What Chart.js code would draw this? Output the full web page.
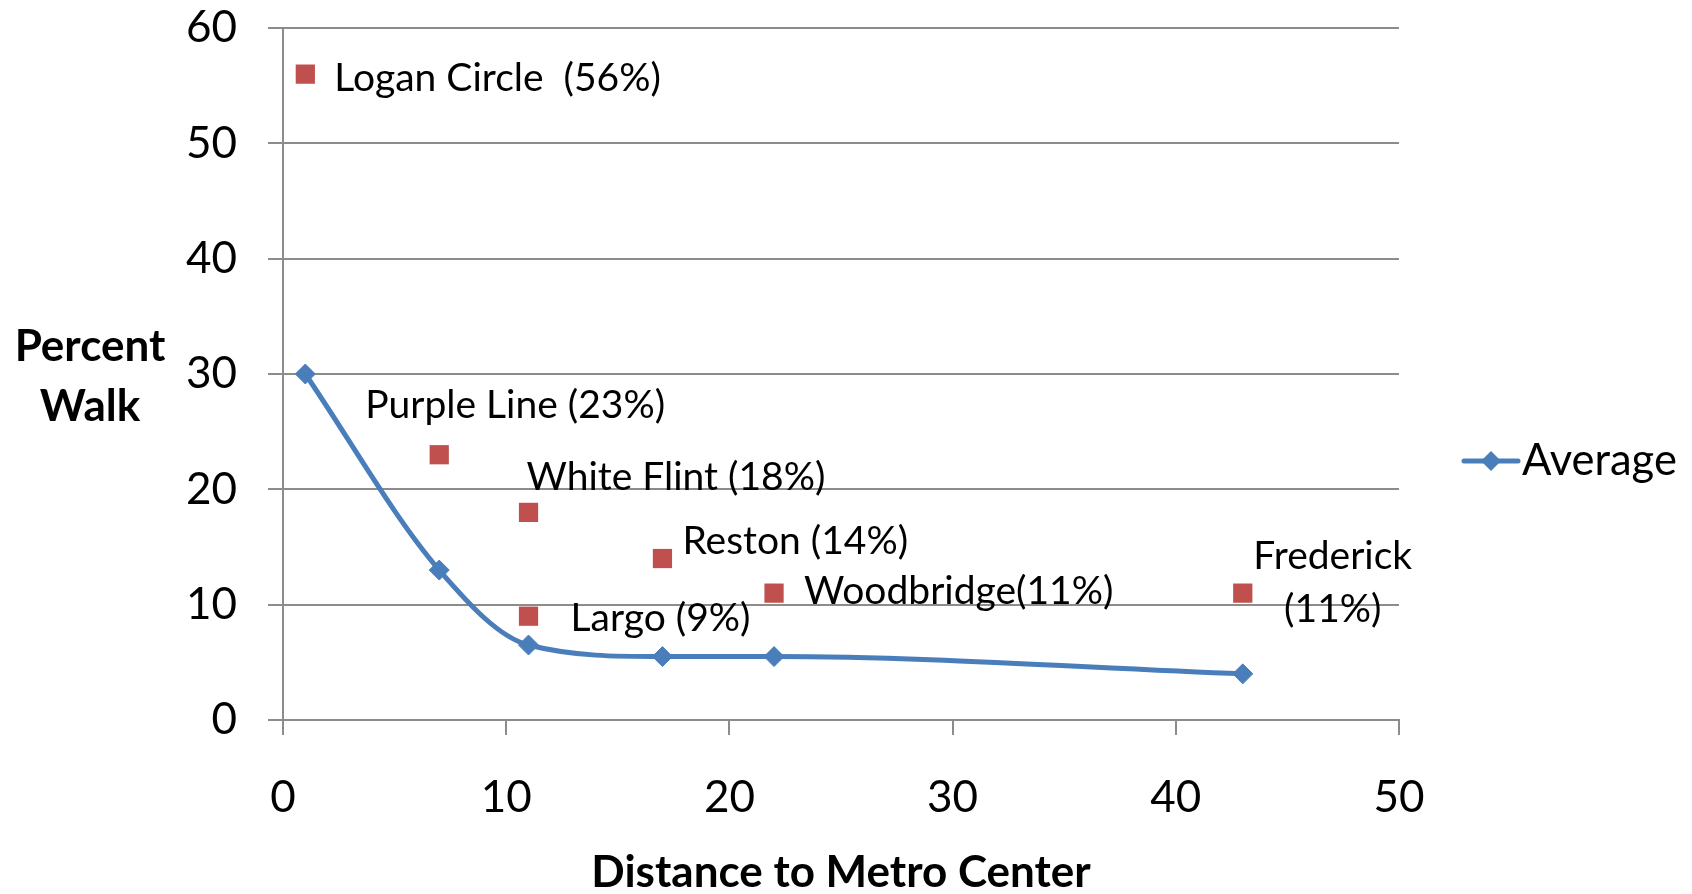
<!DOCTYPE html>
<html>
<head>
<meta charset="utf-8">
<script src="https://cdn.jsdelivr.net/npm/chart.js@4.4.0/dist/chart.umd.min.js"></script>
<style>
  html, body { margin: 0; padding: 0; background: #ffffff; }
  #wrap { width: 1692px; height: 894px; position: relative; }
</style>
</head>
<body>
<div id="wrap"><canvas id="c" width="1692" height="894"></canvas></div>
<script>
// ---- data ----
const avgX = [1, 7, 11, 17, 22, 43];
const avgY = [30, 13, 6.5, 5.5, 5.5, 4];
const siteX = [1, 7, 11, 11, 17, 22, 43];
const siteY = [56, 23, 18, 9, 14, 11, 11];
const siteLabels = ["Logan Circle  (56%)", "Purple Line (23%)", "White Flint (18%)", "Largo (9%)", "Reston (14%)", "Woodbridge(11%)", "Frederick\n(11%)"];
const xTicks = [0, 10, 20, 30, 40, 50];
const yTicks = [0, 10, 20, 30, 40, 50, 60];
const seriesName = "Average";
const xTitle = "Distance to Metro Center";
const yTitleLines = ["Percent", "Walk"];

// ---- style config (label placement relative to each marker) ----
const labelPlacement = [
  { dx: 29, dy: 4, align: "left" },
  { dx: -74, dy: -49, align: "left" },
  { dx: -2, dy: -35, align: "left" },
  { dx: 42, dy: 2, align: "left" },
  { dx: 20, dy: -17, align: "left" },
  { dx: 30, dy: -2, align: "left" },
  { dx: 90, dy: -37, align: "center", lineGap: 53 }
];

const FONT = "Lato, 'Liberation Sans', sans-serif";
const BLUE = "#4a7ebb";
const RED = "#c0504d";
const GRID = "#8c8c8c";

const dataLabelPlugin = {
  id: "dataLabels",
  afterDatasetsDraw(chart) {
    const meta = chart.getDatasetMeta(1);
    const ctx = chart.ctx;
    ctx.save();
    ctx.fillStyle = "#000";
    ctx.font = "39px " + FONT;
    ctx.textBaseline = "middle";
    meta.data.forEach((el, i) => {
      const p = labelPlacement[i];
      const lines = siteLabels[i].split("\n");
      ctx.textAlign = p.align;
      lines.forEach((ln, j) => {
        ctx.fillText(ln, el.x + p.dx, el.y + p.dy + j * (p.lineGap || 0));
      });
    });
    ctx.restore();
  }
};

const extrasPlugin = {
  id: "extras",
  afterDraw(chart) {
    const ctx = chart.ctx;
    const ca = chart.chartArea;
    ctx.save();
    // y axis title (horizontal, two lines)
    ctx.fillStyle = "#000";
    ctx.font = "bold 44px " + FONT;
    ctx.textAlign = "center";
    ctx.textBaseline = "middle";
    const cy = (ca.top + ca.bottom) / 2;
    ctx.fillText(yTitleLines[0], 90, cy - 27);
    ctx.fillText(yTitleLines[1], 90, cy + 33);
    // legend
    const ly = 461;
    ctx.strokeStyle = BLUE;
    ctx.lineWidth = 5;
    ctx.lineCap = "round";
    ctx.beginPath();
    ctx.moveTo(1464, ly);
    ctx.lineTo(1518, ly);
    ctx.stroke();
    ctx.fillStyle = BLUE;
    ctx.beginPath();
    ctx.moveTo(1491 - 10, ly);
    ctx.lineTo(1491, ly - 10);
    ctx.lineTo(1491 + 10, ly);
    ctx.lineTo(1491, ly + 10);
    ctx.closePath();
    ctx.fill();
    ctx.fillStyle = "#000";
    ctx.font = "43.5px " + FONT;
    ctx.textAlign = "left";
    ctx.fillText(seriesName, 1522, ly);
    ctx.restore();
  }
};

new Chart(document.getElementById("c"), {
  type: "scatter",
  data: {
    datasets: [
      {
        label: seriesName,
        data: avgX.map((x, i) => ({ x: x, y: avgY[i] })),
        showLine: true,
        borderColor: BLUE,
        backgroundColor: BLUE,
        borderWidth: 5,
        cubicInterpolationMode: "monotone",
        pointStyle: "rectRot",
        pointRadius: 10,
        pointBorderWidth: 1,
        pointBackgroundColor: BLUE,
        pointBorderColor: BLUE
      },
      {
        label: "Sites",
        data: siteX.map((x, i) => ({ x: x, y: siteY[i] })),
        showLine: false,
        pointStyle: "rect",
        pointRadius: 13.6,
        pointBorderWidth: 0,
        pointBackgroundColor: RED,
        pointBorderColor: RED
      }
    ]
  },
  options: {
    responsive: false,
    animation: false,
    devicePixelRatio: 1,
    layout: { padding: { left: 0, top: 28, right: 293, bottom: 0 } },
    plugins: { legend: { display: false }, tooltip: { enabled: false } },
    scales: {
      x: {
        type: "linear",
        min: 0, max: 50,
        afterBuildTicks(s) { s.ticks = xTicks.map(v => ({ value: v })); },
        afterFit(s) { s.height = 174; },
        grid: { drawOnChartArea: false, drawTicks: true, tickLength: 15, color: GRID, lineWidth: 2 },
        border: { color: GRID, width: 2 },
        ticks: { color: "#000", font: { family: FONT, size: 44 }, padding: 36, maxRotation: 0 },
        title: { display: true, text: xTitle, color: "#000", font: { family: FONT, size: 44, weight: "bold" }, padding: { top: 0, bottom: -5 } }
      },
      y: {
        type: "linear",
        min: 0, max: 60,
        afterBuildTicks(s) { s.ticks = yTicks.map(v => ({ value: v })); },
        afterFit(s) { s.width = 283; s.paddingTop = 0; s.paddingBottom = 0; },
        grid: { drawOnChartArea: true, drawTicks: true, tickLength: 15, color: GRID, lineWidth: 2 },
        border: { color: GRID, width: 2 },
        ticks: { color: "#000", font: { family: FONT, size: 44 }, padding: 31 }
      }
    }
  },
  plugins: [dataLabelPlugin, extrasPlugin]
});
</script>
</body>
</html>
